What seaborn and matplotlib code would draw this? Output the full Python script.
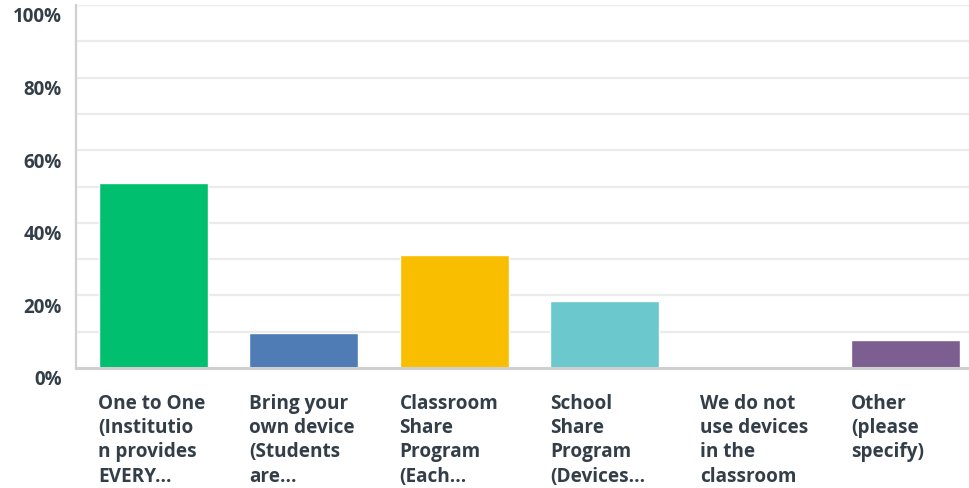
import matplotlib
matplotlib.use("Agg")
import matplotlib.pyplot as plt
import matplotlib.transforms as mtransforms
import seaborn as sns
import pandas as pd

# Answer choices (labels wrapped the way the survey tool shows them)
categories = [
    "One to One\n(Institutio\nn provides\nEVERY...",
    "Bring your\nown device\n(Students\nare...",
    "Classroom\nShare\nProgram\n(Each...",
    "School\nShare\nProgram\n(Devices...",
    "We do not\nuse devices\nin the\nclassroom",
    "Other\n(please\nspecify)",
]
percent = [51.0, 9.6, 31.1, 18.5, 0.0, 7.7]
bar_colors = ["#00bf6f", "#507cb6", "#f9be00", "#6bc8cd", "#7d5e90", "#7d5e90"]

y_ticks = [0, 20, 40, 60, 80, 100]
y_tick_labels = ["0%", "20%", "40%", "60%", "80%", "100%"]

df = pd.DataFrame({"choice": categories, "percent": percent})

sns.set_style("white")
plt.rcParams["font.family"] = ["Open Sans", "DejaVu Sans"]
text_color = "#333e48"

fig = plt.figure(figsize=(9.69, 4.89), dpi=100)
ax = fig.add_axes([76 / 969, 1 - 369 / 489, (969 - 76) / 969, (369 - 6) / 489])

sns.barplot(data=df, x="choice", y="percent", hue="choice", palette=bar_colors,
            width=0.725, legend=False, ax=ax, zorder=3, saturation=1)

# light gridlines every 10%
for v in range(10, 101, 10):
    ax.axhline(v, color="#ebebeb", lw=1.6, zorder=1)

ax.set_ylim(0, 100)
ax.set_xlim(-0.515, 5.42)
ax.set_xlabel("")
ax.set_ylabel("")

ax.set_yticks(y_ticks)
ax.set_yticklabels(y_tick_labels, fontsize=13.5, fontweight="bold", color=text_color)
ax.tick_params(axis="y", length=0, pad=10)
offset_y = mtransforms.ScaledTranslation(0, -9 / 100, fig.dpi_scale_trans)
for lbl in ax.get_yticklabels():
    lbl.set_transform(lbl.get_transform() + offset_y)

ax.set_xticks(range(len(categories)))
ax.set_xticklabels(categories, fontsize=13.7, fontweight="bold", color=text_color,
                   ha="left", va="top", linespacing=1.28)
ax.tick_params(axis="x", length=0, pad=18)
offset_x = mtransforms.ScaledTranslation(-55 / 100, 0, fig.dpi_scale_trans)
for lbl in ax.get_xticklabels():
    lbl.set_transform(lbl.get_transform() + offset_x)

for side in ["top", "right"]:
    ax.spines[side].set_visible(False)
ax.spines["left"].set_color("#d0d0d0")
ax.spines["left"].set_linewidth(1.6)
ax.spines["bottom"].set_color("#d0d0d0")
ax.spines["bottom"].set_linewidth(2.2)
ax.spines["bottom"].set_zorder(4)

fig.savefig("out.png", dpi=100)
